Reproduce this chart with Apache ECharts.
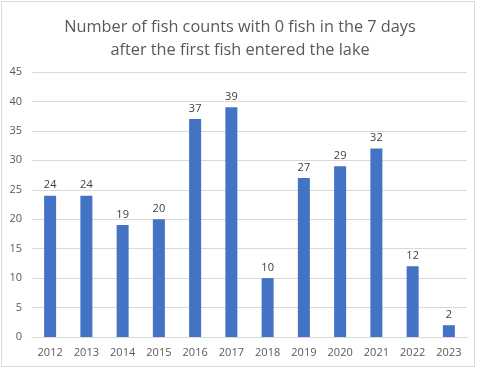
<!DOCTYPE html>
<html><head><meta charset="utf-8">
<script src="https://cdn.jsdelivr.net/npm/echarts@6/dist/echarts.min.js"></script>
<style>html,body{margin:0;padding:0;background:#fff}#c{width:480px;height:369px}</style>
</head><body><div id="c"></div>
<script>
const categories = ['2012','2013','2014','2015','2016','2017','2018','2019','2020','2021','2022','2023'];
const values = [24,24,19,20,37,39,10,27,29,32,12,2];
const yTicks = {min:0, max:45, interval:5};
const titleText = 'Number of fish counts with 0 fish in the 7 days\nafter the first fish entered the lake';

const chart = echarts.init(document.getElementById('c'), null, {renderer:'canvas'});
chart.setOption({
  animation:false,
  backgroundColor:'#fff',
  graphic:[{type:'rect',shape:{x:1.5,y:1.5,width:473,height:365},style:{fill:'none',stroke:'#d9d9d9',lineWidth:1}}],
  title:{text:titleText,left:'center',top:11,textStyle:{fontFamily:'Open Sans',fontSize:16.3,fontWeight:'normal',color:'#595959',lineHeight:23}},
  grid:{left:32,right:13,top:72,bottom:32,containLabel:false},
  xAxis:{type:'category',data:categories,axisTick:{show:false},
    axisLine:{lineStyle:{color:'#d9d9d9'}},
    axisLabel:{color:'#595959',fontFamily:'Open Sans',fontSize:11,margin:10}},
  yAxis:{type:'value',min:yTicks.min,max:yTicks.max,interval:yTicks.interval,
    axisLine:{show:false},axisTick:{show:false},
    splitLine:{lineStyle:{color:'#d9d9d9'}},
    axisLabel:{color:'#595959',fontFamily:'Open Sans',fontSize:11,margin:10}},
  series:[{type:'bar',data:values,barWidth:12,itemStyle:{color:'#4472c4'},
    label:{show:true,position:'top',color:'#404040',fontFamily:'Open Sans',fontSize:11,distance:5}}]
});
</script></body></html>
